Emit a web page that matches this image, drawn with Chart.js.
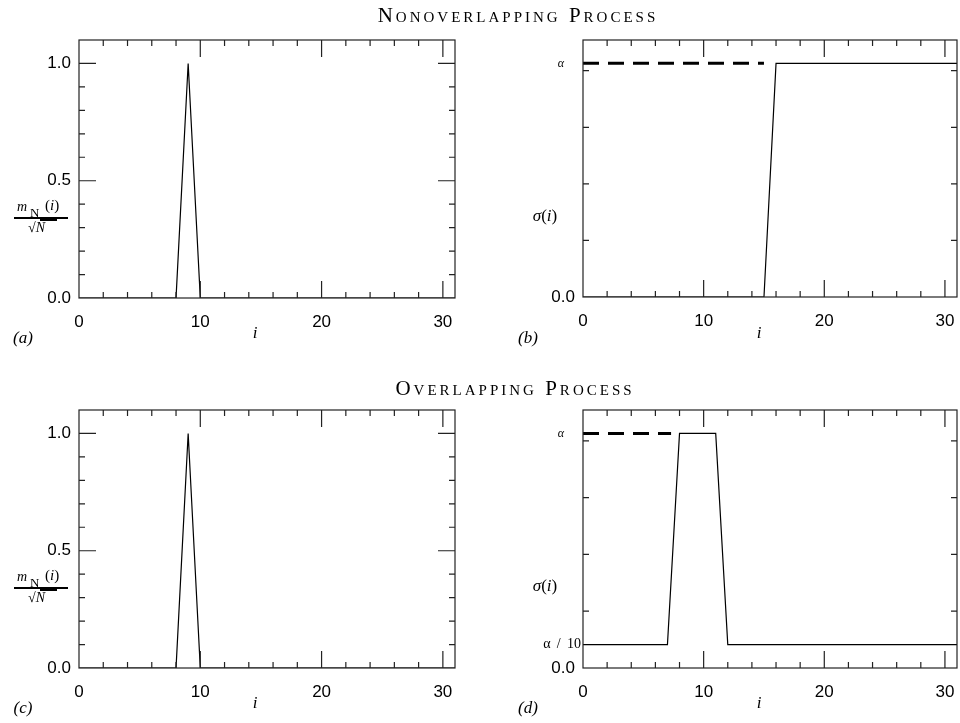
<!DOCTYPE html>
<html><head><meta charset="utf-8">
<script src="https://cdn.jsdelivr.net/npm/chart.js@4/dist/chart.umd.min.js"></script>
<style>
body{margin:0;background:#fff;width:960px;height:723px;position:relative;overflow:hidden;font-family:"Liberation Serif","DejaVu Serif",serif;color:#000}
canvas{position:absolute}
.t{position:absolute;white-space:nowrap;line-height:1}
.title{font-variant:small-caps;font-size:21px;letter-spacing:3px;transform:translate(-50%,-50%)}
.it{font-style:italic;font-size:17px;transform:translate(-50%,-50%)}
.rm{font-style:normal}
.fr{position:absolute;width:70px;height:40px}
.fr span{position:absolute;line-height:1;white-space:nowrap}
.fr .bar{position:absolute;left:0;top:17px;width:54px;height:2px;background:#000}
.fr .blob{position:absolute;left:26px;top:17px;width:17px;height:4px;background:#000}
</style></head><body>
<canvas id="ca" width="480" height="360" style="left:0;top:0"></canvas>
<canvas id="cb" width="480" height="360" style="left:480px;top:0"></canvas>
<canvas id="cc" width="480" height="353" style="left:0;top:370px"></canvas>
<canvas id="cd" width="480" height="353" style="left:480px;top:370px"></canvas>

<div class="t title" style="left:518px;top:15px">Nonoverlapping Process</div>
<div class="t title" style="left:515px;top:388px">Overlapping Process</div>

<div class="t it" style="left:23px;top:337px">(a)</div>
<div class="t it" style="left:528px;top:337px">(b)</div>
<div class="t it" style="left:23px;top:707px">(c)</div>
<div class="t it" style="left:528px;top:707px">(d)</div>
<div class="t it" style="left:255px;top:332px">i</div>
<div class="t it" style="left:759px;top:332px">i</div>
<div class="t it" style="left:255px;top:702px">i</div>
<div class="t it" style="left:759px;top:702px">i</div>

<div class="fr" style="left:14px;top:200px">
  <span style="left:3px;top:0px;font-size:14px;font-style:italic">m</span>
  <span style="left:16px;top:6px;font-size:13px">N</span>
  <span style="left:31px;top:-2px;font-size:15px"><span style="position:static">(</span><i>i</i><span style="position:static">)</span></span>
  <div class="bar"></div><div class="blob"></div>
  <span style="left:14px;top:21px;font-size:14px">&#8730;<i>N</i></span>
</div>
<div class="fr" style="left:14px;top:570px">
  <span style="left:3px;top:0px;font-size:14px;font-style:italic">m</span>
  <span style="left:16px;top:6px;font-size:13px">N</span>
  <span style="left:31px;top:-2px;font-size:15px"><span style="position:static">(</span><i>i</i><span style="position:static">)</span></span>
  <div class="bar"></div><div class="blob"></div>
  <span style="left:14px;top:21px;font-size:14px">&#8730;<i>N</i></span>
</div>
<div class="t it" style="left:545px;top:215px">&#963;<span class="rm">(</span>i<span class="rm">)</span></div>
<div class="t it" style="left:545px;top:585px">&#963;<span class="rm">(</span>i<span class="rm">)</span></div>

<script>
// ---- data ----
const I = [0,1,2,3,4,5,6,7,8,9,10,11,12,13,14,15,16,17,18,19,20,21,22,23,24,25,26,27,28,29,30,31];
const M_NONOVERLAP = [0,0,0,0,0,0,0,0,0,1.0,0,0,0,0,0,0,0,0,0,0,0,0,0,0,0,0,0,0,0,0,0,0];
const SIGMA_NONOVERLAP = [0,0,0,0,0,0,0,0,0,0,0,0,0,0,0,0,0.0413,0.0413,0.0413,0.0413,0.0413,0.0413,0.0413,0.0413,0.0413,0.0413,0.0413,0.0413,0.0413,0.0413,0.0413,0.0413];
const M_OVERLAP = [0,0,0,0,0,0,0,0,0,1.0,0,0,0,0,0,0,0,0,0,0,0,0,0,0,0,0,0,0,0,0,0,0];
const SIGMA_OVERLAP = [0.00413,0.00413,0.00413,0.00413,0.00413,0.00413,0.00413,0.00413,0.0413,0.0413,0.0413,0.0413,0.00413,0.00413,0.00413,0.00413,0.00413,0.00413,0.00413,0.00413,0.00413,0.00413,0.00413,0.00413,0.00413,0.00413,0.00413,0.00413,0.00413,0.00413,0.00413,0.00413];
const ALPHA = 0.0413;
const ALPHA_REF_B_X = [0, 15];
const ALPHA_REF_D_X = [0, 7.3];
const X_LABELS = [0,10,20,30];
const X_MINOR = [2,4,6,8,12,14,16,18,22,24,26,28];
const X_MAJOR = [10,20,30];
const M_LABELS = [0,0.5,1.0];
const M_MINOR = [0.1,0.2,0.3,0.4,0.6,0.7,0.8,0.9];
const M_MAJOR = [0.5,1.0];
const S_MINOR = [0.01,0.02,0.03,0.04];

// ---- plugin: box and inward ticks, extra labels ----
const boxTicks = {
  id:'boxTicks',
  afterDatasetsDraw(chart, args, o){
    const {ctx, chartArea:a, scales:{x,y}} = chart;
    ctx.save();
    ctx.strokeStyle='#222'; ctx.lineWidth=1.2;
    ctx.strokeRect(a.left, a.top, a.right-a.left, a.bottom-a.top);
    ctx.beginPath();
    const xt = (vals,len)=>vals.forEach(v=>{const p=x.getPixelForValue(v);
      ctx.moveTo(p,a.bottom);ctx.lineTo(p,a.bottom-len);ctx.moveTo(p,a.top);ctx.lineTo(p,a.top+len);});
    const yt = (vals,len)=>vals.forEach(v=>{const p=y.getPixelForValue(v);
      ctx.moveTo(a.left,p);ctx.lineTo(a.left+len,p);ctx.moveTo(a.right,p);ctx.lineTo(a.right-len,p);});
    xt(o.xMinor||[],6); xt(o.xMajor||[],17);
    yt(o.yMinor||[],6); yt(o.yMajor||[],17);
    ctx.stroke();
    (o.labels||[]).forEach(l=>{
      ctx.font=l.font; ctx.fillStyle='#000'; ctx.textAlign='right'; ctx.textBaseline='middle';
      ctx.fillText(l.text, a.left-l.gap, y.getPixelForValue(l.value));
    });
    ctx.restore();
  }
};

function pts(xs, ys){ return xs.map((v,k)=>({x:v, y:ys[k]})); }

function build(id, cfg){
  const H = document.getElementById(id).height;
  return new Chart(document.getElementById(id), {
    type:'line',
    data:{datasets:cfg.datasets},
    options:{
      responsive:false, animation:false, devicePixelRatio:1,
      layout:{padding:{top:40,right:cfg.padRight,left:0,bottom:0}},
      plugins:{legend:{display:false}, tooltip:{enabled:false}, boxTicks:cfg.box},
      elements:{point:{radius:0}, line:{tension:0}},
      scales:{
        x:{type:'linear',min:0,max:31,
           grid:{display:false,drawTicks:false},border:{display:false},
           afterBuildTicks:s=>{s.ticks=X_LABELS.map(v=>({value:v}));},
           afterFit:s=>{s.height=H-cfg.bottom; s.paddingLeft=0; s.paddingRight=0;},
           ticks:{padding:14,color:'#000',maxRotation:0,autoSkip:false,
                  font:{family:'Liberation Sans',size:17},callback:v=>String(v)}},
        y:{type:'linear',min:0,max:cfg.ymax,
           grid:{display:false,drawTicks:false},border:{display:false},
           afterBuildTicks:s=>{s.ticks=cfg.yLabels.map(v=>({value:v}));},
           afterFit:s=>{s.width=cfg.left; s.paddingTop=0; s.paddingBottom=0;},
           ticks:{padding:8,color:'#000',autoSkip:false,
                  font:{family:'Liberation Sans',size:17},callback:v=>v.toFixed(1)}}
      }
    },
    plugins:[boxTicks]
  });
}

const lineStyle = {borderColor:'#000', borderWidth:1.2, fill:false, pointRadius:0};
const dashStyle = {borderColor:'#000', borderWidth:3, borderDash:[16,9], fill:false, pointRadius:0, borderCapStyle:'butt'};

build('ca', {left:79, padRight:25, bottom:298, ymax:1.1, yLabels:M_LABELS,
  datasets:[Object.assign({data:pts(I,M_NONOVERLAP)},lineStyle)],
  box:{xMinor:X_MINOR,xMajor:X_MAJOR,yMinor:M_MINOR,yMajor:M_MAJOR}});
build('cb', {left:103, padRight:3, bottom:297, ymax:1.1*ALPHA, yLabels:[0],
  datasets:[Object.assign({data:pts(I,SIGMA_NONOVERLAP)},lineStyle),
            Object.assign({data:pts(ALPHA_REF_B_X,[ALPHA,ALPHA])},dashStyle)],
  box:{xMinor:X_MINOR,xMajor:X_MAJOR,yMinor:S_MINOR,yMajor:[],
       labels:[{value:ALPHA,text:'\u03b1',font:'italic 12px "Liberation Serif"',gap:19}]}});
build('cc', {left:79, padRight:25, bottom:298, ymax:1.1, yLabels:M_LABELS,
  datasets:[Object.assign({data:pts(I,M_OVERLAP)},lineStyle)],
  box:{xMinor:X_MINOR,xMajor:X_MAJOR,yMinor:M_MINOR,yMajor:M_MAJOR}});
build('cd', {left:103, padRight:3, bottom:298, ymax:1.1*ALPHA, yLabels:[0],
  datasets:[Object.assign({data:pts(I,SIGMA_OVERLAP)},lineStyle),
            Object.assign({data:pts(ALPHA_REF_D_X,[ALPHA,ALPHA])},dashStyle)],
  box:{xMinor:X_MINOR,xMajor:X_MAJOR,yMinor:S_MINOR,yMajor:[],
       labels:[{value:ALPHA,text:'\u03b1',font:'italic 12px "Liberation Serif"',gap:19},
               {value:ALPHA/10,text:'\u03b1 \u2009/\u2009 10',font:'14px "Liberation Serif"',gap:2}]}});
</script>
</body></html>
